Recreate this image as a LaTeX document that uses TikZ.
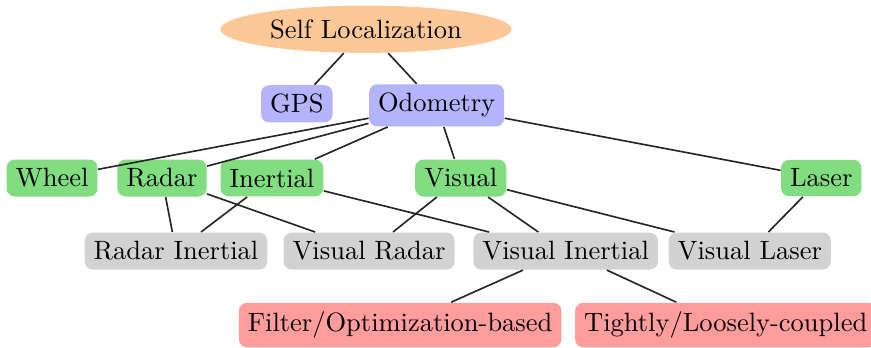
\documentclass[tikz,border=0pt]{standalone}
\usetikzlibrary{shapes.geometric}
\definecolor{selfcol}{RGB}{252,200,152}
\definecolor{odocol}{RGB}{180,180,252}
\definecolor{sensecol}{RGB}{128,222,128}
\definecolor{fusecol}{RGB}{210,210,210}
\definecolor{methcol}{RGB}{255,156,156}
\begin{document}
\begin{tikzpicture}[
	font=\fontsize{9.7}{12}\selectfont,
	box/.style={rectangle,rounded corners=3pt,inner sep=3.3pt},
	rootnode/.style={ellipse,fill=selfcol,inner sep=2.6pt},
	odonode/.style={box,fill=odocol},
	sensenode/.style={box,fill=sensecol},
	fusenode/.style={box,fill=fusecol},
	methnode/.style={box,fill=methcol},
	edge/.style={draw,semithick,black!85}]
	
	\useasboundingbox (0,0) rectangle (11.21,4.466);
	\def\ysense{2.175}
	\def\yfuse{1.235}
	\def\ymeth{0.283}
	\node[rootnode] (selfloc) at (4.71,4.09) {Self Localization};
	\node[odonode] (gps) at (3.82,3.13) {GPS};
	\node[odonode] (odo) at (5.62,3.11) {Odometry};
	\node[sensenode] (wheel) at (0.67,\ysense) {Wheel};
	\node[sensenode] (radar) at (2.085,\ysense) {Radar};
	\node[sensenode] (inertial) at (3.50,\ysense) {Inertial};
	\node[sensenode] (visual) at (5.93,\ysense) {Visual};
	\node[sensenode] (laser) at (10.57,\ysense) {Laser};
	\node[fusenode] (radin) at (2.265,\yfuse) {Radar Inertial};
	\node[fusenode] (visrad) at (4.75,\yfuse) {Visual Radar};
	\node[fusenode] (visin) at (7.28,\yfuse) {Visual Inertial};
	\node[fusenode] (vislas) at (9.65,\yfuse) {Visual Laser};
	\node[methnode] (filter) at (5.15,\ymeth) {Filter/Optimization-based};
	\node[methnode] (tight) at (9.34,\ymeth) {Tightly/Loosely-coupled};
	\foreach \a/\b in {selfloc/gps,selfloc/odo,odo/wheel,odo/radar,odo/inertial,
		odo/visual,odo/laser,radar/radin,inertial/radin,radar/visrad,visual/visrad,
		inertial/visin,visual/visin,visual/vislas,laser/vislas,visin/filter,visin/tight}
		\draw[edge] (\a)--(\b);
	
\end{tikzpicture}
\end{document}
